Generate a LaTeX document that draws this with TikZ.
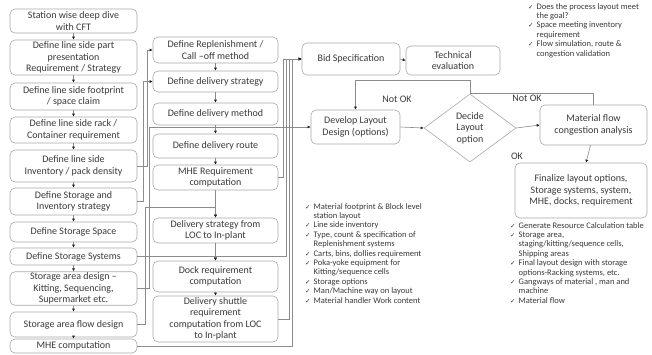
\documentclass[tikz,border=0pt]{standalone}
\usepackage{fontspec}
\setmainfont{Carlito}
\newfontfamily\dejavu{DejaVu Sans}
\usetikzlibrary{shapes.geometric,arrows.meta}
\definecolor{txt}{HTML}{3A3A3A}
\definecolor{boxc}{HTML}{A8A8A8}
\definecolor{linec}{HTML}{8C8C8C}
\definecolor{arrc}{HTML}{202020}
\newcommand{\ck}{\makebox[8.5pt][l]{\dejavu\fontsize{6.5}{6}\selectfont ✓}}
\newcommand{\ind}{\hspace*{8.5pt}}
\begin{document}
\begin{tikzpicture}[x=1pt,y=-1pt,
  box/.style={draw=boxc, rounded corners=5pt, align=center, inner sep=1pt, text=txt,
    font=\fontsize{10}{11.5}\selectfont, line width=0.6pt},
  lbox/.style={box, minimum width=127pt},
  mbox/.style={box, minimum width=125pt},
  conn/.style={draw=linec, line width=0.6pt},
  arr/.style={conn, -{Latex[length=3pt,width=3pt,color=arrc]}},
  lbl/.style={text=txt, font=\fontsize{10}{12}\selectfont, inner sep=0pt},
  bul/.style={text=txt, align=left, anchor=north west, inner sep=0pt,
    font=\fontsize{8.5}{9.4}\selectfont}]
\useasboundingbox[fill=white] (0,0) rectangle (652,354);

% left column
\node[lbox, minimum height=24pt] (L1) at (73.5,21) {Station wise deep dive\\with CFT};
\node[lbox, minimum height=35pt] (L2) at (73.5,57.5) {Define line side part\\presentation\\Requirement / Strategy};
\node[lbox, minimum height=27pt] (L3) at (73.5,96.5) {Define line side footprint\\/ space claim};
\node[lbox, minimum height=26pt] (L4) at (73.5,130) {Define line side rack /\\Container requirement};
\node[lbox, minimum height=32pt] (L5) at (73.5,166) {Define line side\\Inventory / pack density};
\node[lbox, minimum height=27pt] (L6) at (73.5,201.5) {Define Storage and\\Inventory strategy};
\node[lbox, minimum height=20pt] (L7) at (73.5,232) {Define Storage Space};
\node[lbox, minimum height=17pt] (L8) at (73.5,256.5) {Define Storage Systems};
\node[lbox, minimum height=33pt] (L9) at (73.5,288.5) {Storage area design --\\Kitting, Sequencing,\\Supermarket etc.};
\node[lbox, minimum height=25pt] (L10) at (73.5,324.5) {Storage area flow design};
\node[lbox, minimum height=14pt] (L11) at (73.5,346) {MHE computation};

% middle column
\node[mbox, minimum height=26pt] (M1) at (215.5,50) {Define Replenishment /\\Call --off method};
\node[mbox, minimum height=21pt] (M2) at (215.5,81.5) {Define delivery strategy};
\node[mbox, minimum height=22pt] (M3) at (215.5,114) {Define delivery method};
\node[mbox, minimum height=24pt] (M4) at (215.5,146) {Define delivery route};
\node[mbox, minimum height=25pt] (M5) at (215.5,177.5) {MHE Requirement\\computation};
\node[mbox, minimum height=25pt] (M6) at (215.5,230.5) {Delivery strategy from\\LOC to In-plant};
\node[mbox, minimum height=31pt] (M7) at (215.5,276.5) {Dock requirement\\computation};
\node[mbox, minimum height=46pt] (M8) at (215.5,319) {Delivery shuttle\\requirement\\computation from LOC\\to In-plant};

% right part
\node[box, minimum width=98pt, minimum height=32pt] (Bid) at (351,59) {Bid Specification};
\node[box, minimum width=94pt, minimum height=29pt] (Tech) at (453,60.5) {Technical\\evaluation};
\node[box, minimum width=89pt, minimum height=34pt] (Dev) at (355.5,127) {Develop Layout\\Design (options)};
\node[draw=boxc, line width=0.6pt, diamond, minimum width=92pt, minimum height=68pt, inner sep=0pt,
  align=center, text=txt, font=\fontsize{10}{11.5}\selectfont] (Dia) at (470,128) {Decide\\Layout\\option};
\node[box, minimum width=107pt, minimum height=40pt] (Mat) at (593.5,125) {Material flow\\congestion analysis};
\node[box, minimum width=132pt, minimum height=55pt] (Fin) at (581,190.5) {Finalize layout options,\\Storage systems, system,\\MHE, docks, requirement};

% left column chain
\foreach \a/\b in {L1/L2,L2/L3,L3/L4,L4/L5,L5/L6,L6/L7,L7/L8,L8/L9,L9/L10,L10/L11}
  \draw[arr] (\a.south) -- (\b.north);
% middle column chain
\foreach \a/\b in {M1/M2,M2/M3,M3/M4,M4/M5,M5/M6,M6/M7,M7/M8}
  \draw[arr] (\a.south) -- (\b.north);

% left to middle
\coordinate (c5) at (147,166);
\coordinate (c6) at (143,201.5);
\coordinate (c9) at (149,288.5);
\coordinate (c10) at (145,324.5);
\coordinate (k10) at (215.5,207);
\coordinate (c8) at (286,256.5);
\coordinate (k8) at (215.5,256.5);
\coordinate (c11) at (292,346);
\draw[arr] (L5.east) -- (c5) |- (M1.west);
\draw[arr] (L6.east) -- (c6) |- (M2.west);
\draw[arr] (L9.east) -- (c9) |- (Dev.west);
\draw[arr] (L10.east) -- (c10) |- (k10) -- (M6.north);
\draw[arr] (L8.east) -- (c8) |- (Bid.west);
\draw[arr] (k8) -- (M7.north);
\draw[arr] (M5.east) -- ++(5,0) |- (Bid.west);
\draw[arr] (M8.east) -- ++(11,0) |- (Bid.west);
\draw[arr] (L11.east) -- (c11) |- (Bid.west);

% right flow
\draw[arr] (Bid.east) -- (Tech.west);
\draw[arr] (Dev.east) -- (Dia.west);
\draw[arr] (Dia.east) -- (Mat.west);
\coordinate (top1) at (470,80);
\draw[arr] (Dia.north) -- (top1) -| (Dev.north);
\draw[conn] (Mat.north) |- (Dia.north);
\draw[arr] ([xshift=-3pt]Mat.south) -- ([xshift=5pt]Fin.north);
\node[lbl] (nok1) at (397,99) {Not OK};
\node[lbl] (nok2) at (527,98) {Not OK};
\node[lbl] (ok) at (517,156) {OK};

% bullet texts
\node[bul] (b1) at (528,3) {\ck Does the process layout meet\\\ind the goal?\\\ck Space meeting inventory\\\ind requirement\\\ck Flow simulation, route \&\\\ind congestion validation};
\node[bul] (b2) at (305,203) {\ck Material footprint \& Block level\\\ind station layout\\\ck Line side inventory\\\ck Type, count \& specification of\\\ind Replenishment  systems\\\ck Carts, bins, dollies requirement\\\ck Poka-yoke equipment  for\\\ind Kitting/sequence cells\\\ck Storage options\\\ck Man/Machine way on layout\\\ck Material handler Work content};
\node[bul] (b3) at (510,222) {\ck Generate Resource Calculation table\\\ck Storage area,\\\ind staging/kitting/sequence cells,\\\ind Shipping areas\\\ck Final layout design with storage\\\ind options-Racking systems, etc.\\\ck Gangways of material , man and\\\ind machine\\\ck Material flow};
\end{tikzpicture}
\end{document}
